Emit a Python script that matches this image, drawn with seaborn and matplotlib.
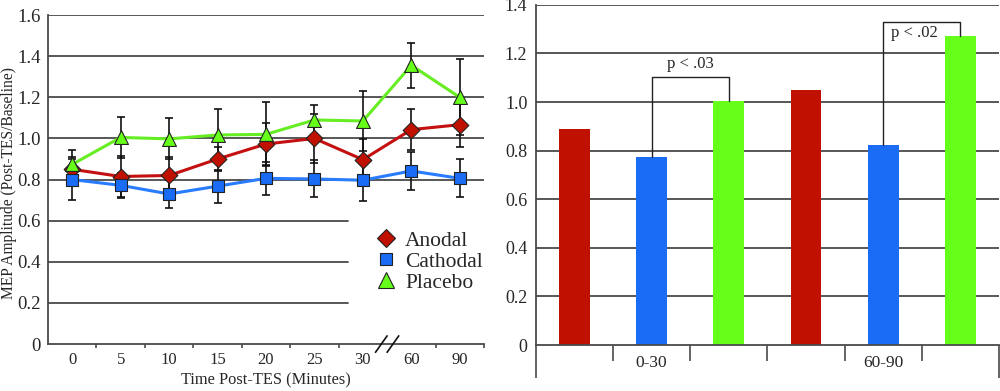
import matplotlib
matplotlib.use("Agg")
import matplotlib.pyplot as plt
from matplotlib.lines import Line2D
import seaborn as sns
import pandas as pd

# ---- data ----
time_labels = ["0", "5", "10", "15", "20", "25", "30", "60", "90"]
anodal = [0.85, 0.815, 0.82, 0.90, 0.973, 1.00, 0.897, 1.043, 1.067]
anodal_err = [0.06, 0.10, 0.09, 0.06, 0.10, 0.12, 0.10, 0.10, 0.11]
cathodal = [0.80, 0.772, 0.73, 0.768, 0.806, 0.803, 0.797, 0.842, 0.806]
cathodal_err = [0.10, 0.06, 0.07, 0.08, 0.08, 0.09, 0.10, 0.094, 0.093]
placebo = [0.874, 1.005, 0.998, 1.017, 1.02, 1.09, 1.085, 1.356, 1.20]
placebo_err = [0.07, 0.10, 0.10, 0.125, 0.155, 0.075, 0.145, 0.11, 0.185]

bar_keys = ["A1", "C1", "P1", "A2", "C2", "P2"]
bar_vals = [0.89, 0.774, 1.005, 1.049, 0.825, 1.271]
group_labels = ["0-30", "60-90"]

RED, BLUE, GREEN = "#c01000", "#1a6cf5", "#66ff1a"
LRED, LBLUE, LGREEN = "#c41010", "#2a7cff", "#66ee22"
GRID = "#4a4a4a"

sns.set_style("white")
plt.rcParams["font.family"] = ["Liberation Serif", "DejaVu Serif"]
plt.rcParams["font.size"] = 11

fig = plt.figure(figsize=(10, 3.91), dpi=100)
ax1 = fig.add_axes([0.048, 0.12, 0.436, 0.8414])
ax2 = fig.add_axes([0.5357, 0.1176, 0.4633, 0.870])

# ---- left panel: time course ----
pos = list(range(len(time_labels)))
for yv in [0.8, 1.0, 1.2, 1.4, 1.6]:
    ax1.axhline(yv, color=GRID, lw=1.3, zorder=1)
for yv in [0.2, 0.4, 0.6]:
    ax1.axhline(yv, xmin=0, xmax=0.689, color=GRID, lw=1.3, zorder=1)

series = [
    ("Anodal", anodal, anodal_err, LRED, RED, "D", 8.5),
    ("Cathodal", cathodal, cathodal_err, LBLUE, BLUE, "s", 8.5),
    ("Placebo", placebo, placebo_err, LGREEN, GREEN, "^", 10),
]
for name, vals, err, lc, mc, mk, ms in series:
    ax1.errorbar(pos, vals, yerr=err, fmt="none", ecolor="#111111",
                 elinewidth=1.2, capsize=2.8, capthick=1.2, zorder=3)
    sns.lineplot(x=pos, y=vals, ax=ax1, color=lc, lw=2.2, zorder=2)
    sns.scatterplot(x=pos, y=vals, ax=ax1, marker=mk, s=ms ** 2, color=mc,
                    edgecolor="#222222", linewidth=0.8, zorder=4)

ax1.set_xlim(-0.5, 8.5)
ax1.set_ylim(0, 1.6)
ax1.set_yticks([0, 0.2, 0.4, 0.6, 0.8, 1.0, 1.2, 1.4, 1.6])
ax1.set_yticklabels(["0", "0.2", "0.4", "0.6", "0.8", "1.0", "1.2", "1.4", "1.6"])
ax1.set_xticks(pos)
ax1.set_xticklabels(time_labels)
ax1.set_xticks([0.5, 1.5, 2.5, 3.5, 4.5, 5.5, 7.5, 8.5], minor=True)
ax1.tick_params(axis="x", which="both", bottom=True)
ax1.tick_params(axis="x", which="major", length=0, pad=6, labelsize=12)
ax1.tick_params(axis="x", which="minor", length=3, width=1.2, color=GRID,
                direction="out")
ax1.tick_params(axis="y", length=0, pad=5, labelsize=13.5)
for s in ["top", "right"]:
    ax1.spines[s].set_visible(False)
for s in ["left", "bottom"]:
    ax1.spines[s].set_color(GRID)
    ax1.spines[s].set_linewidth(1.3)
ax1.set_xlabel("Time Post-TES (Minutes)", fontsize=11.8, labelpad=3)
ax1.set_ylabel("MEP Amplitude (Post-TES/Baseline)", fontsize=11.2)
ax1.yaxis.set_label_coords(-0.07, 0.49)

# axis break marks
for dx in (-0.12, 0.12):
    ax1.plot([6.5 + dx - 0.12, 6.5 + dx + 0.12], [-0.04, 0.04], color="#111111",
             lw=1.2, clip_on=False, zorder=5)

handles = [
    Line2D([], [], ls="none", marker="D", ms=9.5, mfc=RED, mec="#222222", mew=0.8),
    Line2D([], [], ls="none", marker="s", ms=9, mfc=BLUE, mec="#222222", mew=0.8),
    Line2D([], [], ls="none", marker="^", ms=11, mfc=GREEN, mec="#222222", mew=0.8),
]
ax1.legend(handles, ["Anodal", "Cathodal", "Placebo"], loc="upper left",
           bbox_to_anchor=(0.725, 0.378), frameon=False, handlelength=1.0,
           handletextpad=0.4, labelspacing=0.05, fontsize=15.5, borderpad=0)

# ---- right panel: bars ----
df = pd.DataFrame({"key": bar_keys, "val": bar_vals})
for yv in [0.2, 0.4, 0.6, 0.8, 1.0, 1.2, 1.4]:
    ax2.axhline(yv, color=GRID, lw=1.3, zorder=0)
sns.barplot(data=df, x="key", y="val", hue="key", order=bar_keys,
            palette=[RED, BLUE, GREEN, RED, BLUE, GREEN], width=0.4,
            legend=False, saturation=1, ax=ax2, zorder=2, linewidth=0)
ax2.set_xlim(-0.5, 5.5)
ax2.set_ylim(0, 1.4)
ax2.set_yticks([0, 0.2, 0.4, 0.6, 0.8, 1.0, 1.2, 1.4])
ax2.set_yticklabels(["0", "0.2", "0.4", "0.6", "0.8", "1.0", "1.2", "1.4"])
ax2.set_xlabel("")
ax2.set_ylabel("")
ax2.set_xticks([-0.5, 5.5])
ax2.set_xticklabels([])
ax2.set_xticks([0.5, 1.5, 2.5, 3.5, 4.5], minor=True)
ax2.tick_params(axis="x", which="both", bottom=True)
ax2.tick_params(axis="x", which="major", length=24, width=1.2, color=GRID,
                direction="out")
ax2.tick_params(axis="x", which="minor", length=11.5, width=1.2, color=GRID,
                direction="out")
ax2.tick_params(axis="y", length=0, pad=6, labelsize=13)
for s in ["top", "right"]:
    ax2.spines[s].set_visible(False)
for s in ["left", "bottom"]:
    ax2.spines[s].set_color(GRID)
    ax2.spines[s].set_linewidth(1.3)
for i, lab in zip([1, 4], group_labels):
    ax2.text(i, -0.075, lab, ha="center", va="center", fontsize=12.5)

# significance brackets
def bracket(ax, x0, x1, y0, y1, top, text, tx, ty, ha):
    ax.plot([x0, x0, x1, x1], [y0, top, top, y1], color="#222222", lw=1.0,
            zorder=3)
    ax.text(tx, ty, text, ha=ha, va="center", fontsize=12)

bracket(ax2, 1, 2, bar_vals[1], bar_vals[2], 1.104, "p < .03", 1.5, 1.157, "center")
bracket(ax2, 4, 5, bar_vals[4], bar_vals[5], 1.331, "p < .02", 4.1, 1.285, "left")

fig.savefig("out.png", dpi=100)
